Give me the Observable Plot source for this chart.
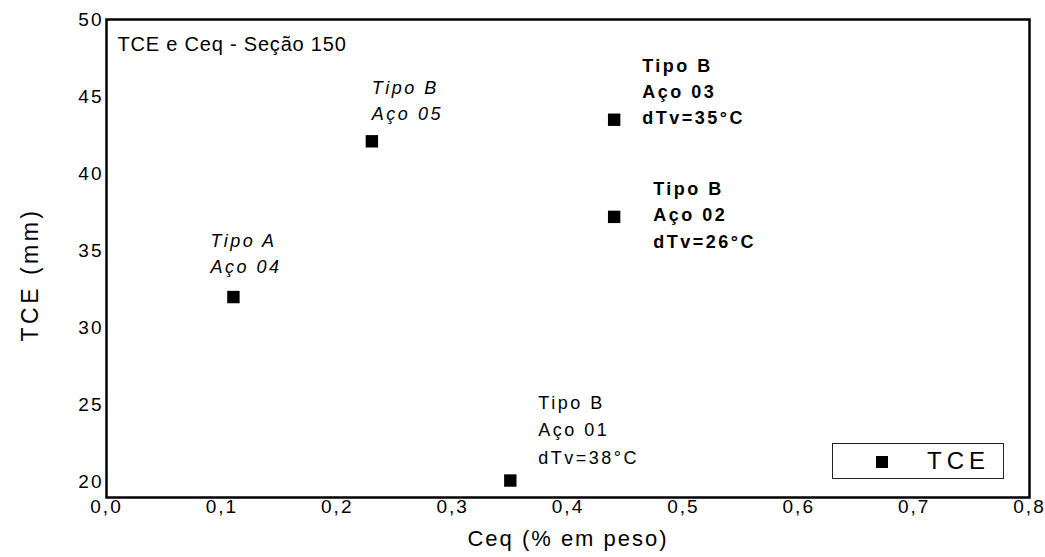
<!DOCTYPE html>
<html><head><meta charset="utf-8">
<script src="https://cdn.jsdelivr.net/npm/d3@7"></script>
<script src="https://cdn.jsdelivr.net/npm/@observablehq/plot@0.6"></script>
<style>
body{margin:0;background:#fff;}
#wrap{position:relative;width:1045px;height:557px;}
#wrap svg{font-family:"Liberation Sans",Arial,sans-serif;}
#wrap svg text{letter-spacing:2px;}
#legend{position:absolute;left:832px;top:443px;width:172px;height:36px;border:1px solid #222;box-sizing:border-box;background:#fff;font-family:"Liberation Sans",Arial,sans-serif;}
#legend .sw{position:absolute;left:43px;top:12px;width:12px;height:12px;background:#000;}
#legend .lb{position:absolute;left:94px;top:3px;font-size:24px;letter-spacing:5px;line-height:28px;color:#000;}
</style>
</head><body>
<div id="wrap"></div>
<script>
// data
const ceq = [0.11, 0.23, 0.44, 0.44, 0.35];
const tce = [32, 42.1, 43.5, 37.2, 20.1];
const tipo = ["Tipo A", "Tipo B", "Tipo B", "Tipo B", "Tipo B"];
const aco = ["Aço 04", "Aço 05", "Aço 03", "Aço 02", "Aço 01"];
const dTv = [null, null, "35°C", "26°C", "38°C"];
const xTicks = [0, 0.1, 0.2, 0.3, 0.4, 0.5, 0.6, 0.7, 0.8];
const yTicks = [20, 25, 30, 35, 40, 45, 50];
const seriesName = "TCE";
const title = "TCE e Ceq - Seção 150";
const xLabel = "Ceq (% em peso)";
const yLabel = "TCE (mm)";

const data = ceq.map((c, i) => ({
  ceq: c, tce: tce[i], aco: aco[i],
  label: tipo[i] + "\n" + aco[i] + (dTv[i] ? "\ndTv=" + dTv[i] : "")
}));
const pick = (name) => data.filter(d => d.aco === name);

const fmt = d => d.toFixed(1).replace(".", ",");
const lab = (name, opts) => Plot.text(pick(name), Object.assign({
  x: "ceq", y: "tce", text: "label", textAnchor: "start", lineAnchor: "top",
  fontSize: 18, fill: "black"
}, opts));

const chart = Plot.plot({
  width: 1045, height: 557,
  marginLeft: 106, marginRight: 16, marginTop: 19, marginBottom: 60,
  x: {domain: [0, 0.8]},
  y: {domain: [19, 50]},
  marks: [
    Plot.axisX({ticks: xTicks, tickFormat: fmt, tickSize: 0, tickPadding: 2, fontSize: 19, label: null, fill: "black"}),
    Plot.axisY({ticks: yTicks, tickSize: 0, tickPadding: 3, fontSize: 19, label: null, fill: "black"}),
    Plot.frame({stroke: "black", strokeWidth: 2.5}),
    Plot.dot(data, {x: "ceq", y: "tce", symbol: "square", r: 7, fill: "black"}),
    lab("Aço 04", {dx: -23, dy: -68, fontStyle: "italic", lineHeight: 1.42}),
    lab("Aço 05", {dx: 0, dy: -65, fontStyle: "italic", lineHeight: 1.42}),
    lab("Aço 03", {dx: 28, dy: -66, fontWeight: "bold", lineHeight: 1.45}),
    lab("Aço 02", {dx: 39, dy: -41, fontWeight: "bold", lineHeight: 1.47}),
    lab("Aço 01", {dx: 28, dy: -91, lineHeight: 1.52}),
    Plot.text([title], {frameAnchor: "top-left", dx: 11, dy: 17, lineAnchor: "top", textAnchor: "start", fontSize: 20, fill: "black"}),
    Plot.text([xLabel], {frameAnchor: "bottom", dy: 33, lineAnchor: "top", fontSize: 22, fill: "black"}),
    Plot.text([yLabel], {frameAnchor: "left", dx: -76, dy: 83, rotate: -90, fontSize: 23, fill: "black"})
  ]
});
document.getElementById("wrap").appendChild(chart);

chart.querySelectorAll("text").forEach(t => {
  const s = t.textContent;
  if (s === title) t.style.letterSpacing = "0.8px";
  else if (s === yLabel) t.style.letterSpacing = "3.5px";
  else if (t.querySelector("tspan")) t.style.letterSpacing = "2.5px";
});

const lg = document.createElement("div");
lg.id = "legend";
lg.innerHTML = '<div class="sw"></div><div class="lb"></div>';
lg.querySelector(".lb").textContent = seriesName;
document.getElementById("wrap").appendChild(lg);
</script>
</body></html>
